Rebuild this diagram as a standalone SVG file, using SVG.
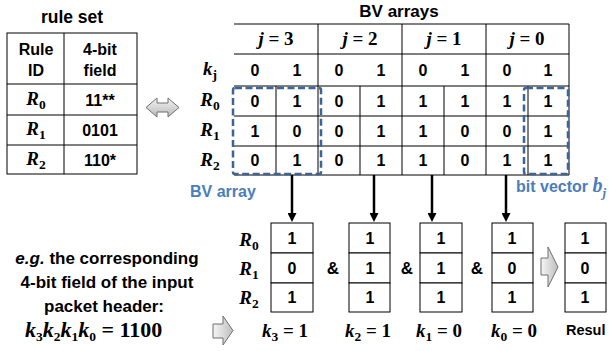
<svg xmlns="http://www.w3.org/2000/svg" width="609" height="351" viewBox="0 0 609 351">
<defs>
<style>
.t{font-family:"Liberation Sans",Arial,sans-serif;font-weight:bold;font-size:16px;fill:#000;text-anchor:middle}
.m{font-family:"Liberation Serif","Times New Roman",serif;font-weight:bold;font-style:italic;font-size:19px;fill:#000;text-anchor:middle}
.s{font-style:normal;font-size:13.5px}
.ln{stroke:#000;stroke-width:1;fill:none}
.dash{stroke:#3c6496;stroke-width:2.5;stroke-dasharray:7 3.5;fill:none}
.blue{fill:#4a7ebb}
.conn{stroke:#000;stroke-width:2.5;fill:none}
.hollow{stroke:#6f6f6f;stroke-width:1;fill:url(#g)}
.cell{fill:#fff;stroke:#000;stroke-width:1}
</style>
<linearGradient id="g" x1="0" y1="0" x2="0" y2="1">
<stop offset="0" stop-color="#f4f4f4"/>
<stop offset="1" stop-color="#b8b8b8"/>
</linearGradient>
<linearGradient id="gh" x1="0" y1="0" x2="1" y2="0">
<stop offset="0" stop-color="#f6f6f6"/>
<stop offset="1" stop-color="#bdbdbd"/>
</linearGradient>
<marker id="ah" viewBox="0 0 10 10" refX="0" refY="5" markerWidth="10" markerHeight="9" markerUnits="userSpaceOnUse" orient="auto">
<path d="M0,0 L10,5 L0,10 z" fill="#000"/>
</marker>
</defs>
<rect width="609" height="351" fill="#fff"/>

<g id="rule-set">
<text class="t" x="72" y="23" style="font-size:17.5px">rule set</text>
<rect class="ln" x="7" y="33" width="130" height="141"/>
<line class="ln" x1="64" y1="33" x2="64" y2="174"/>
<line class="ln" x1="7" y1="84" x2="137" y2="84"/>
<line class="ln" x1="7" y1="115" x2="137" y2="115"/>
<line class="ln" x1="7" y1="145" x2="137" y2="145"/>
<text class="t" x="36" y="55">Rule</text>
<text class="t" x="36" y="76">ID</text>
<text class="t" x="100" y="55">4-bit</text>
<text class="t" x="100" y="76">field</text>
<text class="m" x="36" y="105">R<tspan class="s" dy="4">0</tspan></text>
<text class="m" x="36" y="135">R<tspan class="s" dy="4">1</tspan></text>
<text class="m" x="36" y="165">R<tspan class="s" dy="4">2</tspan></text>
<text class="t" x="100" y="106">11**</text>
<text class="t" x="100" y="136">0101</text>
<text class="t" x="100" y="166">110*</text>
</g>

<g id="equivalence-arrow">
<polygon class="hollow" points="146,107.5 157,98 157,103 168,103 168,98 179,107.5 168,117 168,112 157,112 157,117"/>
</g>

<g id="bv-arrays">
<text class="t" x="399" y="17" style="font-size:17px">BV arrays</text>
<line x1="234" y1="24" x2="569" y2="24" stroke="#808080" stroke-width="2"/>
<g class="ln">
<line x1="234" y1="54" x2="569" y2="54"/>
<line x1="234" y1="86" x2="569" y2="86"/>
<line x1="234" y1="116" x2="569" y2="116"/>
<line x1="234" y1="146" x2="569" y2="146"/>
<line x1="234" y1="175" x2="569" y2="175"/>
<line x1="318" y1="24" x2="318" y2="175"/>
<line x1="402" y1="24" x2="402" y2="175"/>
<line x1="486" y1="24" x2="486" y2="175"/>
<line x1="569" y1="24" x2="569" y2="175"/>
<line x1="276" y1="86" x2="276" y2="175"/>
<line x1="360" y1="86" x2="360" y2="175"/>
<line x1="444" y1="86" x2="444" y2="175"/>
<line x1="528" y1="86" x2="528" y2="175"/>
</g>
<text class="m" x="276" y="45">j<tspan font-style="normal"> = 3</tspan></text>
<text class="m" x="360" y="45">j<tspan font-style="normal"> = 2</tspan></text>
<text class="m" x="444" y="45">j<tspan font-style="normal"> = 1</tspan></text>
<text class="m" x="527" y="45">j<tspan font-style="normal"> = 0</tspan></text>
<text class="m" x="210" y="75">k<tspan class="s" dy="4" font-style="italic">j</tspan></text>
<text class="m" x="210" y="106">R<tspan class="s" dy="4">0</tspan></text>
<text class="m" x="210" y="136">R<tspan class="s" dy="4">1</tspan></text>
<text class="m" x="210" y="166">R<tspan class="s" dy="4">2</tspan></text>
<g class="t">
<text x="255" y="76">0</text><text x="297" y="76">1</text><text x="339" y="76">0</text><text x="381" y="76">1</text>
<text x="423" y="76">0</text><text x="465" y="76">1</text><text x="507" y="76">0</text><text x="548" y="76">1</text>
<text x="255" y="107">0</text><text x="297" y="107">1</text><text x="339" y="107">0</text><text x="381" y="107">1</text>
<text x="423" y="107">1</text><text x="465" y="107">1</text><text x="507" y="107">1</text><text x="548" y="107">1</text>
<text x="255" y="137">1</text><text x="297" y="137">0</text><text x="339" y="137">0</text><text x="381" y="137">1</text>
<text x="423" y="137">1</text><text x="465" y="137">0</text><text x="507" y="137">0</text><text x="548" y="137">1</text>
<text x="255" y="166">0</text><text x="297" y="166">1</text><text x="339" y="166">0</text><text x="381" y="166">1</text>
<text x="423" y="166">1</text><text x="465" y="166">0</text><text x="507" y="166">1</text><text x="548" y="166">1</text>
</g>
</g>

<g id="bv-array-highlight">
<rect class="dash" x="233" y="88" width="88" height="86" rx="2"/>
<text class="t blue" x="190" y="197" style="text-anchor:start;font-size:16px">BV array</text>
</g>

<g id="bit-vector-highlight">
<rect class="dash" x="524" y="88" width="44" height="86" rx="2"/>
<text class="t blue" x="516" y="192" style="text-anchor:start;font-size:16px">bit vector <tspan font-family="Liberation Serif, serif" font-style="italic" font-size="20">b</tspan><tspan font-family="Liberation Serif, serif" font-style="italic" font-size="13" dy="5">j</tspan></text>
</g>

<g id="connectors">
<line class="conn" x1="292" y1="175" x2="292" y2="213" marker-end="url(#ah)"/>
<line class="conn" x1="374" y1="175" x2="374" y2="213" marker-end="url(#ah)"/>
<line class="conn" x1="432" y1="175" x2="432" y2="213" marker-end="url(#ah)"/>
<line class="conn" x1="506" y1="175" x2="506" y2="213" marker-end="url(#ah)"/>
</g>

<g id="row-labels">
<text class="m" x="249" y="246">R<tspan class="s" dy="4">0</tspan></text>
<text class="m" x="249" y="275">R<tspan class="s" dy="4">1</tspan></text>
<text class="m" x="249" y="304">R<tspan class="s" dy="4">2</tspan></text>
</g>

<g id="vector-k3">
<rect class="cell" x="271" y="223" width="42" height="30"/>
<rect class="cell" x="271" y="253" width="42" height="30"/>
<rect class="cell" x="271" y="283" width="42" height="29"/>
<text class="t" x="292" y="244">1</text><text class="t" x="292" y="274">0</text><text class="t" x="292" y="303">1</text>
<text class="m" x="262" y="337" style="text-anchor:start">k<tspan class="s" dy="4">3</tspan><tspan font-style="normal" dy="-4"> = 1</tspan></text>
</g>
<g id="vector-k2">
<rect class="cell" x="349" y="223" width="41" height="30"/>
<rect class="cell" x="349" y="253" width="41" height="30"/>
<rect class="cell" x="349" y="283" width="41" height="29"/>
<text class="t" x="370" y="244">1</text><text class="t" x="370" y="274">1</text><text class="t" x="370" y="303">1</text>
<text class="m" x="345" y="337" style="text-anchor:start">k<tspan class="s" dy="4">2</tspan><tspan font-style="normal" dy="-4"> = 1</tspan></text>
</g>
<g id="vector-k1">
<rect class="cell" x="420" y="223" width="42" height="30"/>
<rect class="cell" x="420" y="253" width="42" height="30"/>
<rect class="cell" x="420" y="283" width="42" height="29"/>
<text class="t" x="441" y="244">1</text><text class="t" x="441" y="274">1</text><text class="t" x="441" y="303">1</text>
<text class="m" x="416" y="337" style="text-anchor:start">k<tspan class="s" dy="4">1</tspan><tspan font-style="normal" dy="-4"> = 0</tspan></text>
</g>
<g id="vector-k0">
<rect class="cell" x="492" y="223" width="41" height="30"/>
<rect class="cell" x="492" y="253" width="41" height="30"/>
<rect class="cell" x="492" y="283" width="41" height="29"/>
<text class="t" x="512" y="244">1</text><text class="t" x="512" y="274">0</text><text class="t" x="512" y="303">1</text>
<text class="m" x="491" y="337" style="text-anchor:start">k<tspan class="s" dy="4">0</tspan><tspan font-style="normal" dy="-4"> = 0</tspan></text>
</g>

<g id="and-operators" class="t" style="font-size:17px">
<text x="333" y="274">&amp;</text>
<text x="407" y="274">&amp;</text>
<text x="477" y="274">&amp;</text>
</g>

<g id="result-arrow">
<polygon points="541,258 548,258 548,247 558,267 548,287 548,275 541,275" style="stroke:#6f6f6f;stroke-width:1;fill:url(#gh)"/>
</g>

<g id="result">
<rect class="cell" x="565" y="223" width="41" height="30"/>
<rect class="cell" x="565" y="253" width="41" height="30"/>
<rect class="cell" x="565" y="283" width="41" height="29"/>
<text class="t" x="585" y="244">1</text><text class="t" x="585" y="274">0</text><text class="t" x="585" y="303">1</text>
<text class="t" x="566" y="335" style="text-anchor:start;font-size:14.5px">Resul</text>
</g>

<g id="input-example">
<text class="t" x="107" y="264" style="font-size:17px"><tspan font-style="italic">e.g.</tspan> the corresponding</text>
<text class="t" x="107" y="288" style="font-size:17px">4-bit field of the input</text>
<text class="t" x="104" y="312" style="font-size:17px">packet header:</text>
<text class="m" x="25" y="337" style="font-size:22px;text-anchor:start">k<tspan class="s" dy="4" font-size="15.5">3</tspan><tspan dy="-4">k</tspan><tspan class="s" dy="4" font-size="15.5">2</tspan><tspan dy="-4">k</tspan><tspan class="s" dy="4" font-size="15.5">1</tspan><tspan dy="-4">k</tspan><tspan class="s" dy="4" font-size="15.5">0</tspan><tspan font-style="normal" dy="-4"> = 1100</tspan></text>
</g>

<g id="input-arrow">
<polygon points="213,324 223,324 223,316 233,330.5 223,345 223,338 213,338" style="stroke:#6f6f6f;stroke-width:1;fill:url(#gh)"/>
</g>
</svg>
